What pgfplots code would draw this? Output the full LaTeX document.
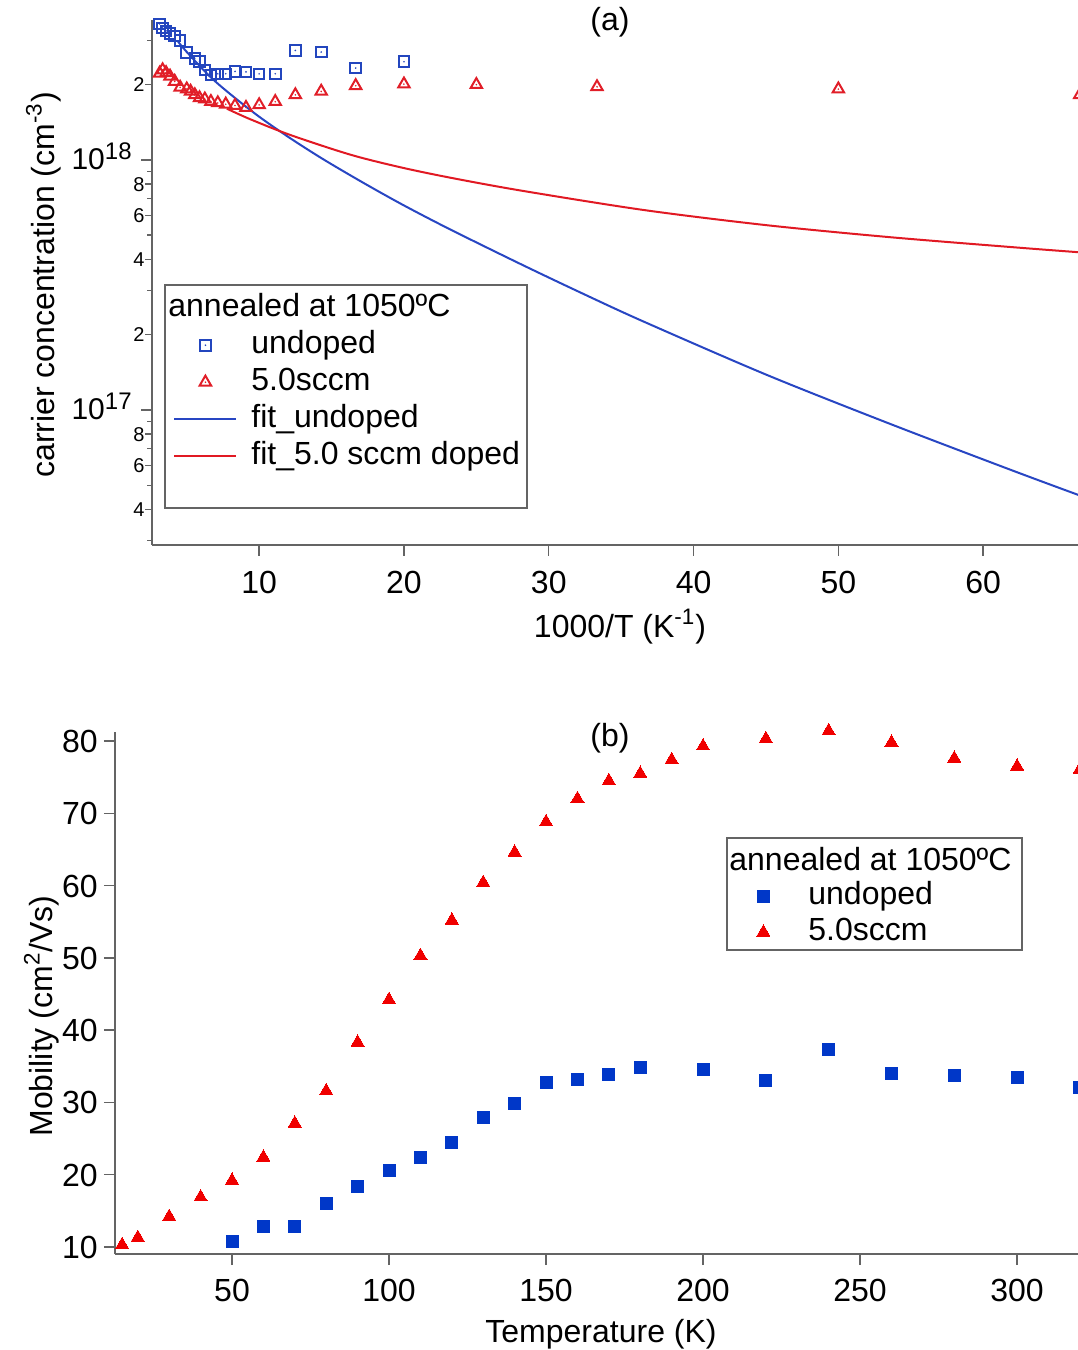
\documentclass[border=0pt]{standalone}
\usepackage{pgfplots}
\pgfplotsset{compat=1.18}
\usepackage{fontspec}
\setmainfont{Liberation Sans}
\definecolor{axgray}{RGB}{100,100,100}
\definecolor{sqblue}{RGB}{35,70,190}
\definecolor{fitblue}{RGB}{40,70,195}
\definecolor{trired}{RGB}{225,30,40}
\definecolor{fitred}{RGB}{225,25,35}
\definecolor{fblue}{RGB}{0,55,200}
\definecolor{fred}{RGB}{240,0,0}
\pgfdeclareplotmark{sqdot}{%
  \pgfpathrectangle{\pgfqpoint{-\pgfplotmarksize}{-\pgfplotmarksize}}{\pgfqpoint{2\pgfplotmarksize}{2\pgfplotmarksize}}%
  \pgfusepathqstroke
  \pgfpathcircle{\pgfpointorigin}{0.45pt}%
  \pgfusepathqfill}
\pgfdeclareplotmark{tridot}{%
  \pgfpathmoveto{\pgfqpointpolar{90}{\pgfplotmarksize}}%
  \pgfpathlineto{\pgfqpointpolar{-30}{\pgfplotmarksize}}%
  \pgfpathlineto{\pgfqpointpolar{210}{\pgfplotmarksize}}%
  \pgfpathclose
  \pgfusepathqstroke
  \pgfpathcircle{\pgfpointorigin}{0.45pt}%
  \pgfusepathqfill}
\pgfplotsset{
  markleg/.style={legend image code/.code={\path[draw=none,fill=none] (0bp,0bp) -- (31bp,0bp); \draw[##1, only marks] plot coordinates {(15.5bp,0bp)};}},
  lineleg/.style={legend image code/.code={\draw[##1] (0bp,0bp) -- (31bp,0bp);}},
  common/.style={
    scale only axis, anchor=south west, clip=false,
    axis x line=bottom, axis y line=left,
    axis line style={-, draw=axgray, line width=0.7bp},
    tick align=outside,
    every tick/.style={draw=axgray, line width=0.7bp},
    major tick length=5.5bp, minor tick length=2.5bp,
    /pgf/number format/assume math mode=true,
    tick label style={font=\fontsize{16bp}{19bp}\selectfont},
    legend cell align=left,
  },
}
\begin{document}
\begin{tikzpicture}[font=\fontsize{16bp}{19bp}\selectfont]
\useasboundingbox (0,0) rectangle (539bp,-675bp);
% ---------------- (a) ----------------
\begin{axis}[common,
  at={(76bp,-272.5bp)}, width=463bp, height=262.5bp,
  ymode=log, xmin=2.6, xmax=66.55, ymin=2.884e16, ymax=3.63e18,
  xtick={10,20,30,40,50,60}, minor xtick={},
  xticklabel style={inner sep=0pt, text height=11.5bp, text depth=0pt, yshift=-7bp},
  ytick={1e17,1e18},
  yticklabels={10\textsuperscript{\fontsize{12bp}{12bp}\selectfont 17}\hspace*{4bp}, 10\textsuperscript{\fontsize{12bp}{12bp}\selectfont 18}\hspace*{4bp}},
  yticklabel style={font=\fontsize{15bp}{15bp}\selectfont, inner sep=0pt, anchor=east, text height=10bp, text depth=0pt},
  minor ytick={3e16,5e16,7e16,9e16,3e17,5e17,7e17,9e17,3e18},
  extra y ticks={4e16,6e16,8e16,2e17,4e17,6e17,8e17,2e18},
  extra y tick labels={4,6,8,2,4,6,8,2},
  extra y tick style={major tick length=3.5bp, yticklabel style={font=\fontsize{10bp}{10bp}\selectfont, text height=7bp}},
  legend style={at={(axis description cs:0.02268,0.4107)}, anchor=north west, draw=none, fill=none, inner sep=0pt, row sep=3bp, column sep=7bp, nodes={inner sep=0pt, text height=12bp, text depth=3.5bp}, font=\fontsize{16bp}{19bp}\selectfont},
]
\addplot[only marks, mark=sqdot, mark size=2.65bp, mark options={draw=sqblue, fill=sqblue, line width=1bp}, markleg] coordinates {
(3.125,3.50e18) (3.333,3.37e18) (3.571,3.28e18) (3.846,3.21e18) (4.167,3.13e18)
(4.545,3.00e18) (5.0,2.69e18) (5.556,2.55e18) (5.882,2.47e18) (6.25,2.29e18)
(6.667,2.19e18) (7.143,2.21e18) (7.692,2.21e18) (8.333,2.26e18) (9.091,2.25e18)
(10,2.21e18) (11.111,2.21e18) (12.5,2.74e18) (14.286,2.70e18) (16.667,2.33e18)
(20,2.47e18)
};
\addlegendentry{undoped}
\addplot[only marks, mark=tridot, mark size=3.3bp, mark options={draw=trired, fill=trired, line width=1bp}, markleg] coordinates {
(3.125,2.22e18) (3.333,2.29e18) (3.571,2.23e18) (3.846,2.16e18) (4.167,2.06e18)
(4.545,1.95e18) (5.0,1.92e18) (5.263,1.88e18) (5.556,1.82e18) (5.882,1.77e18)
(6.25,1.75e18) (6.667,1.71e18) (7.143,1.69e18) (7.692,1.67e18) (8.333,1.65e18)
(9.091,1.62e18) (10,1.66e18) (11.111,1.71e18) (12.5,1.82e18) (14.286,1.88e18)
(16.667,1.98e18) (20,2.01e18) (25,2.00e18) (33.333,1.96e18) (50,1.92e18)
(66.667,1.82e18)
};
\addlegendentry{5.0sccm}
\addplot[fitblue, line width=1bp, smooth, lineleg] coordinates {
(4.40,2.972e18) (5.0,2.704e18) (6.61,2.153e18) (8.22,1.791e18) (10.07,1.479e18)
(12.14,1.222e18) (14.44,1.005e18) (17.21,8.09e17) (19.97,6.59e17) (23.2,5.27e17)
(28.15,3.81e17) (32.4,2.91e17) (36.6,2.25e17) (45.07,1.38e17) (53.54,8.81e16)
(61.97,5.74e16) (66.67,4.55e16)
};
\addlegendentry{fit\_undoped}
\addplot[fitred, line width=1bp, smooth, lineleg] coordinates {
(7.77,1.603e18) (9.38,1.455e18) (12.14,1.259e18) (16.29,1.050e18) (19.74,9.35e17)
(23.2,8.49e17) (28.15,7.53e17) (36.6,6.30e17) (45.07,5.48e17) (53.54,4.91e17)
(61.97,4.48e17) (66.67,4.27e17)
};
\addlegendentry{fit\_5.0 sccm doped}
\end{axis}
% ---------------- (b) ----------------
\begin{axis}[common,
  at={(57.5bp,-627bp)}, width=481.5bp, height=261bp,
  xmin=12.74, xmax=319.4, ymin=9.03, ymax=81.25,
  xtick={50,100,150,200,250,300}, ytick={10,20,30,40,50,60,70,80},
  xticklabel style={inner sep=0pt, text height=11.5bp, text depth=0pt, yshift=-6.5bp},
  yticklabel style={inner sep=0pt, anchor=east, text height=11.5bp, text depth=0pt, xshift=-3bp},
  legend style={at={(axis description cs:0.6407,0.7157)}, anchor=north west, draw=none, fill=none, inner sep=0pt, row sep=2.5bp, column sep=7bp, nodes={inner sep=0pt, text height=12bp, text depth=3.5bp}, font=\fontsize{16bp}{19bp}\selectfont},
]
\addplot[only marks, mark=square*, mark size=3bp, mark options={draw=fblue, fill=fblue, line width=0pt}, markleg] coordinates {
(50,10.8) (60,12.8) (70,12.8) (80,16.0) (90,18.4) (100,20.6) (110,22.4)
(120,24.5) (130,27.9) (140,29.9) (150,32.7) (160,33.2) (170,33.9) (180,34.8)
(200,34.6) (220,33.0) (240,37.3) (260,34.0) (280,33.7) (300,33.5) (320,32.0)
};
\addlegendentry{undoped}
\addplot[only marks, mark=triangle*, mark size=3.8bp, mark options={draw=fred, fill=fred, line width=0pt}, markleg] coordinates {
(15,10.3) (20,11.3) (30,14.2) (40,16.9) (50,19.2) (60,22.4) (70,27.1)
(80,31.6) (90,38.3) (100,44.2) (110,50.3) (120,55.2) (130,60.4) (140,64.6)
(150,68.8) (160,72.0) (170,74.5) (180,75.5) (190,77.4) (200,79.3) (220,80.3)
(240,81.4) (260,79.8) (280,77.6) (300,76.5) (320,76.1)
};
\addlegendentry{5.0sccm}
\end{axis}
% ---------------- labels ----------------
\node at (305bp,-11bp) {(a)};
\node at (305bp,-369bp) {(b)};
\node[anchor=base] at (310bp,-318.5bp) {1000/T (K\textsuperscript{-1})};
\node[anchor=base] at (300.5bp,-671bp) {Temperature (K)};
\node[rotate=90, anchor=base] at (27bp,-142.5bp) {carrier concentration (cm\textsuperscript{-3})};
\node[rotate=90, anchor=base] at (26bp,-508bp) {Mobility (cm\textsuperscript{2}/Vs)};
% legend boxes and titles
\draw[axgray, line width=0.6bp] (82.5bp,-142.5bp) rectangle (263.5bp,-254bp);
\node[anchor=base west, inner sep=0pt] at (84bp,-158.4bp) {annealed at 1050ºC};
\draw[axgray, line width=0.6bp] (363.5bp,-419bp) rectangle (511bp,-475bp);
\node[anchor=base west, inner sep=0pt] at (364.5bp,-435bp) {annealed at 1050ºC};
\end{tikzpicture}
\end{document}
